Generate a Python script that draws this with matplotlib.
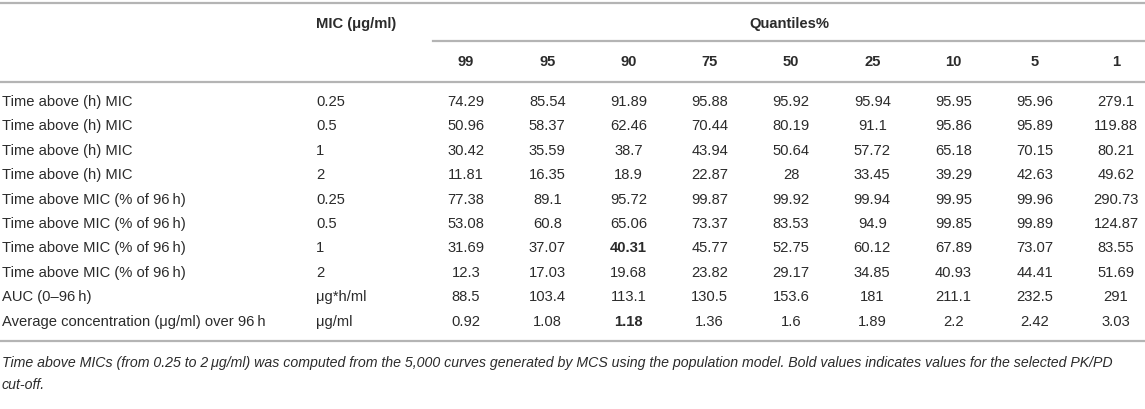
import matplotlib
matplotlib.use("Agg")
import matplotlib.pyplot as plt

plt.rcParams['font.family'] = ['Liberation Sans', 'DejaVu Sans']

row_labels = [
    "Time above (h) MIC",
    "Time above (h) MIC",
    "Time above (h) MIC",
    "Time above (h) MIC",
    "Time above MIC (% of 96\u2009h)",
    "Time above MIC (% of 96\u2009h)",
    "Time above MIC (% of 96\u2009h)",
    "Time above MIC (% of 96\u2009h)",
    "AUC (0\u201396\u2009h)",
    "Average concentration (\u03bcg/ml) over 96\u2009h",
]
mic_values = ["0.25", "0.5", "1", "2", "0.25", "0.5", "1", "2",
              "\u03bcg*h/ml", "\u03bcg/ml"]
quantiles = ["99", "95", "90", "75", "50", "25", "10", "5", "1"]
values = [
    ["74.29", "85.54", "91.89", "95.88", "95.92", "95.94", "95.95", "95.96", "279.1"],
    ["50.96", "58.37", "62.46", "70.44", "80.19", "91.1", "95.86", "95.89", "119.88"],
    ["30.42", "35.59", "38.7", "43.94", "50.64", "57.72", "65.18", "70.15", "80.21"],
    ["11.81", "16.35", "18.9", "22.87", "28", "33.45", "39.29", "42.63", "49.62"],
    ["77.38", "89.1", "95.72", "99.87", "99.92", "99.94", "99.95", "99.96", "290.73"],
    ["53.08", "60.8", "65.06", "73.37", "83.53", "94.9", "99.85", "99.89", "124.87"],
    ["31.69", "37.07", "40.31", "45.77", "52.75", "60.12", "67.89", "73.07", "83.55"],
    ["12.3", "17.03", "19.68", "23.82", "29.17", "34.85", "40.93", "44.41", "51.69"],
    ["88.5", "103.4", "113.1", "130.5", "153.6", "181", "211.1", "232.5", "291"],
    ["0.92", "1.08", "1.18", "1.36", "1.6", "1.89", "2.2", "2.42", "3.03"],
]
bold_cells = [(6, 2), (9, 2)]
caption = ("Time above MICs (from 0.25 to 2\u2009\u03bcg/ml) was computed from the 5,000 curves "
           "generated by MCS using the population model. Bold values indicates values for the selected PK/PD\n"
           "cut-off.")

W, H = 1145, 409
fig = plt.figure(figsize=(W / 100, H / 100), dpi=100)
ax = fig.add_axes([0, 0, 1, 1])
ax.set_xlim(0, W)
ax.set_ylim(H, 0)
ax.axis('off')

txt = '#2b2b2b'
line_c = '#b4b4b4'
fs = 10.6

col_x = [466 + i * 81.25 for i in range(len(quantiles))]

# rules
ax.plot([0, W], [3, 3], color=line_c, lw=1.6)
ax.plot([433, W], [41, 41], color=line_c, lw=1.6)
ax.plot([0, W], [82, 82], color=line_c, lw=1.6)
ax.plot([0, W], [341, 341], color=line_c, lw=1.6)

# header
ax.text(316, 24, "MIC (\u03bcg/ml)", fontsize=fs, fontweight='bold', color=txt, va='center', ha='left')
ax.text((433 + W) / 2, 24, "Quantiles%", fontsize=fs, fontweight='bold', color=txt, va='center', ha='center')
for x, q in zip(col_x, quantiles):
    ax.text(x, 62, q, fontsize=fs, fontweight='bold', color=txt, va='center', ha='center')

# body
for i, (lab, mic, row) in enumerate(zip(row_labels, mic_values, values)):
    y = 102 + i * 24.4
    ax.text(2, y, lab, fontsize=fs, color=txt, va='center', ha='left')
    ax.text(316, y, mic, fontsize=fs, color=txt, va='center', ha='left')
    for j, (x, v) in enumerate(zip(col_x, row)):
        w = 'bold' if (i, j) in bold_cells else 'normal'
        ax.text(x, y, v, fontsize=fs, color=txt, va='center', ha='center', fontweight=w)

ax.text(2, 356, caption, fontsize=10.2, color=txt, style='italic', va='top', ha='left',
        linespacing=1.75)

fig.savefig('out.png', dpi=100)
